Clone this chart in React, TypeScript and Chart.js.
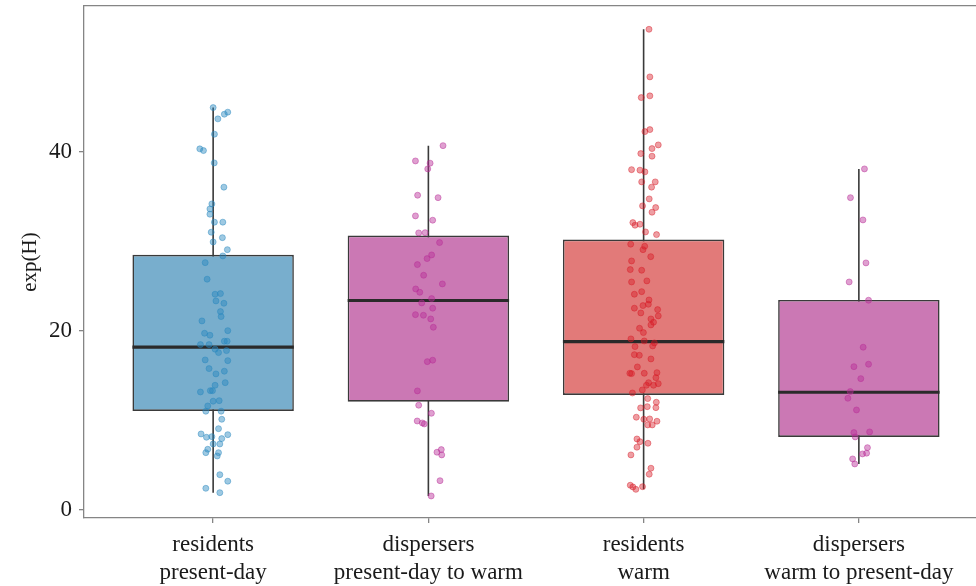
import React, { useEffect, useRef } from "react";
import { Chart, registerables } from "chart.js";

Chart.register(...registerables);

// ---------- data ----------
const CATEGORIES = [
  "residents present-day",
  "dispersers present-day to warm",
  "residents warm",
  "dispersers warm to present-day",
];
const X_TICK_LABELS = [
  ["residents", "present-day"],
  ["dispersers", "present-day to warm"],
  ["residents", "warm"],
  ["dispersers", "warm to present-day"],
];
const Y_TICKS = [0, 20, 40];

const Q1 = [11.06, 12.1, 12.85, 8.16];
const MEDIAN = [18.2, 23.4, 18.8, 13.15];
const Q3 = [28.5, 30.65, 30.2, 23.46];
const WHISKER_LOW = [1.93, 1.56, 2.3, 5.14];
const WHISKER_HIGH = [44.95, 40.7, 53.7, 38.1];

// jittered observations (value, horizontal jitter in category units)
const G1_Y = [
  44.95, 43.69, 44.21, 44.44, 41.98, 40.34, 40.15, 38.77, 36.06, 34.19,
  33.63, 33.04, 32.15, 32.15, 31.03, 30.42, 29.94, 29.08, 28.38, 27.63,
  25.78, 24.1, 24.17, 23.35, 23.09, 22.16, 21.6, 21.12, 19.74, 19.52,
  20.03, 18.85, 18.85, 18.47, 18.47, 17.96, 17.58, 17.8, 16.76, 16.68,
  15.79, 15.2, 15.5, 14.22, 13.93, 13.18, 13.33, 13.33, 12.21, 12.15,
  11.62, 11.03, 11.03, 10.13, 9.08, 8.49, 8.12, 8.19, 7.97, 8.41,
  7.37, 7.37, 6.78, 6.4, 6.4, 6.03, 3.94, 3.21, 2.42, 1.93,
];
const G1_JITTER = [
  0, 0.022, 0.052, 0.068, 0.006, -0.062, -0.045, 0.005, 0.05, -0.006,
  -0.015, -0.015, 0.006, 0.045, -0.009, 0.043, 0, 0.066, 0.045, -0.037,
  -0.028, 0.009, 0.034, 0.013, 0.05, 0.034, 0.037, -0.052, -0.04, -0.015,
  0.068, 0.052, 0.065, -0.059, -0.019, 0.009, 0.025, 0.062, -0.037, 0.068,
  -0.019, 0.013, 0.052, 0.056, 0.009, -0.059, -0.013, -0.003, 0.028, 0,
  -0.025, -0.034, 0.037, 0.04, 0.025, -0.056, -0.031, -0.006, 0.04, 0.068,
  0, 0.031, -0.025, -0.034, 0.025, 0.019, 0.031, 0.068, -0.034, 0.031,
];

const G2_Y = [
  40.7, 38.99, 38.74, 38.1, 35.16, 34.89, 32.85, 32.37, 30.95, 30.98,
  29.87, 28.49, 28.08, 27.41, 26.22, 25.25, 24.69, 24.32, 23.61, 23.13,
  22.54, 21.82, 21.75, 21.34, 20.41, 16.57, 16.73, 13.3, 11.7, 10.8,
  9.94, 9.72, 9.61, 6.45, 6.74, 6.15, 3.27, 1.56,
];
const G2_JITTER = [
  0.068, -0.06, 0.008, -0.003, -0.05, 0.045, -0.06, 0.02, -0.045, -0.015,
  0.052, 0.015, -0.006, -0.051, -0.022, 0.065, -0.059, -0.04, 0.015, -0.031,
  0.02, -0.06, -0.023, 0.011, 0.023, -0.005, 0.02, -0.051, -0.045, 0.014,
  -0.052, -0.028, -0.019, 0.04, 0.06, 0.062, 0.054, 0.013,
];

const G3_Y = [
  53.7, 48.38, 46.07, 46.26, 42.27, 42.49, 40.78, 40.37, 39.81, 39.52,
  38.02, 37.96, 37.77, 36.65, 36.65, 36.06, 34.75, 33.97, 33.78, 33.26,
  32.1, 31.81, 31.92, 31.06, 30.76, 29.69, 29.46, 29.08, 28.3, 27.82,
  26.85, 26.78, 25.47, 25.59, 24.1, 24.39, 23.46, 22.83, 22.98, 22.54,
  22.01, 22.38, 21.68, 21.34, 20.3, 19.81, 20.97, 20.67, 19.11, 18.88,
  18.66, 18.25, 18.32, 17.35, 17.28, 16.87, 15.98, 15.27, 15.23, 15.27,
  15.34, 14.78, 14.22, 14.11, 13.93, 13.93, 13.41, 13.07, 12.44, 12.03,
  11.43, 11.4, 11.54, 10.36, 10.13, 10.17, 9.91, 9.5, 9.5, 7.93,
  7.63, 7.45, 7.01, 6.15, 4.66, 3.99, 2.76, 2.57, 2.3, 2.6,
];
const G3_JITTER = [
  0.025, 0.029, -0.011, 0.029, 0.006, 0.029, 0.068, 0.039, -0.013, 0.039,
  -0.056, -0.017, 0.006, -0.009, 0.054, 0.037, 0.026, -0.005, 0.056, 0.039,
  -0.05, -0.04, -0.017, 0.009, 0.06, -0.06, 0.005, -0.003, 0.033, -0.056,
  -0.062, -0.009, -0.056, 0.015, -0.043, -0.009, 0.025, -0.003, 0.022, -0.043,
  -0.013, 0.065, 0.068, 0.034, -0.019, -0.001, 0.046, 0.034, -0.059, 0.003,
  0.05, -0.04, 0.042, -0.043, -0.02, 0.034, -0.029, -0.064, -0.056, 0.003,
  0.062, 0.057, 0.023, 0.068, 0.046, 0.013, -0.006, -0.052, 0.019, 0.059,
  0.057, -0.014, 0.017, -0.034, 0.001, 0.028, 0.062, 0.019, 0.04, -0.031,
  -0.017, 0.02, -0.031, -0.059, 0.034, 0.026, -0.062, -0.05, -0.036, -0.005,
];

const G4_Y = [
  38.1, 34.89, 32.4, 27.6, 25.47, 23.43, 18.18, 16.01, 16.28, 14.67,
  13.22, 12.48, 11.17, 8.64, 8.72, 8.16, 6.96, 6.26, 6.34, 5.7, 5.14,
];
const G4_JITTER = [
  0.026, -0.039, 0.019, 0.033, -0.045, 0.045, 0.02, -0.023, 0.045, 0.009,
  -0.04, -0.051, -0.011, -0.023, 0.05, -0.017, 0.04, 0.017, 0.036, -0.029, -0.019,
];

const GROUP_Y = [G1_Y, G2_Y, G3_Y, G4_Y];
const GROUP_JITTER = [G1_JITTER, G2_JITTER, G3_JITTER, G4_JITTER];

// ---------- styles ----------
const BOX_COLORS = [
  "rgb(120,174,205)",
  "rgb(203,120,180)",
  "rgb(226,122,121)",
  "rgb(203,120,180)",
];
const POINT_COLORS = [
  "rgba(40,135,190,0.45)",
  "rgba(185,45,150,0.45)",
  "rgba(215,25,35,0.42)",
  "rgba(185,45,150,0.45)",
];
const BOX_WIDTH = 0.75;
const AXIS_COLOR = "#858585";
const TEXT_COLOR = "#1a1a1a";
const FONT_FAMILY = "'Liberation Serif', 'Times New Roman', serif";

export default function App() {
  const canvasRef = useRef<HTMLCanvasElement | null>(null);

  useEffect(() => {
    const canvas = canvasRef.current;
    if (!canvas) return;

    const boxData = CATEGORIES.map((_, i) => ({ x: i + 1, y: [Q1[i], Q3[i]] }));
    const whiskerData: any[] = [];
    const medianData: any[] = [];
    CATEGORIES.forEach((_, i) => {
      whiskerData.push({ x: i + 1, y: WHISKER_LOW[i] });
      whiskerData.push({ x: i + 1, y: WHISKER_HIGH[i] });
      whiskerData.push({ x: i + 1, y: null });
      medianData.push({ x: i + 1 - BOX_WIDTH / 2, y: MEDIAN[i] });
      medianData.push({ x: i + 1 + BOX_WIDTH / 2, y: MEDIAN[i] });
      medianData.push({ x: i + 1, y: null });
    });

    const pointSets = CATEGORIES.map((name, i) => ({
      type: "scatter" as const,
      label: name,
      data: GROUP_Y[i].map((v, k) => ({ x: i + 1 + GROUP_JITTER[i][k], y: v })),
      backgroundColor: POINT_COLORS[i],
      borderColor: POINT_COLORS[i],
      borderWidth: 1,
      pointRadius: 3,
      pointHoverRadius: 3,
      order: 0,
    }));

    const tickFont = { family: FONT_FAMILY, size: 23, lineHeight: 1.22 };

    const chart = new Chart(canvas, {
      type: "bar",
      data: {
        datasets: [
          {
            type: "line",
            label: "whiskers",
            data: whiskerData,
            borderColor: "#3a3a3a",
            borderWidth: 1.6,
            pointRadius: 0,
            spanGaps: false,
            order: 3,
          } as any,
          {
            type: "bar",
            label: "boxes",
            data: boxData as any,
            backgroundColor: BOX_COLORS,
            borderColor: "#3a3a3a",
            borderWidth: 1.6,
            borderSkipped: false,
            barPercentage: BOX_WIDTH,
            categoryPercentage: 1,
            grouped: false,
            order: 2,
          } as any,
          {
            type: "line",
            label: "medians",
            data: medianData,
            borderColor: "#2a2a2a",
            borderWidth: 3.2,
            pointRadius: 0,
            spanGaps: false,
            order: 1,
          } as any,
          ...(pointSets as any[]),
        ],
      },
      options: {
        responsive: false,
        animation: false,
        devicePixelRatio: 1,
        layout: { padding: { top: 6, right: 4, left: 0, bottom: 0 } },
        plugins: {
          legend: { display: false },
          tooltip: { enabled: false },
          title: { display: false },
        },
        scales: {
          x: {
            type: "linear",
            position: "bottom",
            min: 0.4,
            max: 4.6,
            offset: false,
            afterBuildTicks: (scale: any) => {
              scale.ticks = CATEGORIES.map((_, i) => ({ value: i + 1 }));
            },
            afterFit: (scale: any) => {
              scale.height = 68;
              scale.paddingLeft = 0;
              scale.paddingRight = 0;
            },
            ticks: {
              autoSkip: false,
              maxRotation: 0,
              minRotation: 0,
              padding: 8,
              color: TEXT_COLOR,
              font: tickFont,
              callback: (v: any) => X_TICK_LABELS[Math.round(Number(v)) - 1] || "",
            },
            grid: {
              drawOnChartArea: false,
              drawTicks: true,
              tickLength: 5,
              color: AXIS_COLOR,
              lineWidth: 1.3,
              offset: false,
            },
            border: { display: true, color: AXIS_COLOR, width: 1.3 },
          },
          xTop: {
            type: "linear",
            position: "top",
            display: true,
            min: 0,
            max: 1,
            afterFit: (scale: any) => {
              scale.height = 0;
              scale.paddingLeft = 0;
              scale.paddingRight = 0;
            },
            ticks: { display: false },
            grid: { display: false },
            border: { display: true, color: AXIS_COLOR, width: 1.3 },
          },
          y: {
            type: "linear",
            position: "left",
            min: -0.9,
            max: 56.3,
            afterBuildTicks: (scale: any) => {
              scale.ticks = Y_TICKS.map((v) => ({ value: v }));
            },
            afterFit: (scale: any) => {
              scale.width = 84;
              scale.paddingTop = 0;
              scale.paddingBottom = 0;
            },
            ticks: {
              padding: 7,
              color: TEXT_COLOR,
              font: tickFont,
            },
            grid: {
              drawOnChartArea: false,
              drawTicks: true,
              tickLength: 5,
              color: AXIS_COLOR,
              lineWidth: 1.3,
            },
            border: { display: true, color: AXIS_COLOR, width: 1.3 },
            title: {
              display: true,
              text: "exp(H)",
              color: TEXT_COLOR,
              font: { family: FONT_FAMILY, size: 21, lineHeight: 1.2 },
              padding: { top: 18, bottom: 0 },
            },
          },
        },
      } as any,
    });

    return () => chart.destroy();
  }, []);

  return (
    <div
      style={{
        position: "fixed",
        left: 0,
        top: 0,
        width: 976,
        height: 586,
        overflow: "hidden",
        background: "#ffffff",
      }}
    >
      <canvas ref={canvasRef} width={992} height={586} style={{ display: "block" }} />
    </div>
  );
}
